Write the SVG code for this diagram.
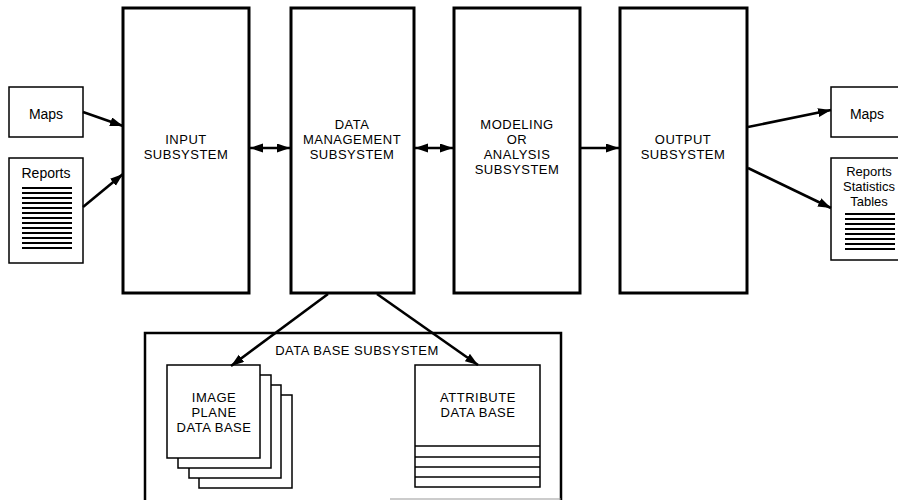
<svg xmlns="http://www.w3.org/2000/svg" width="898" height="500" viewBox="0 0 898 500">
<style>
text{font-family:"Liberation Sans",Arial,sans-serif;fill:#000;text-anchor:middle}
.cap{font-size:13px;letter-spacing:0.5px}
.lbl{font-size:14px}
.lbs{font-size:13px}
.big{fill:#fff;stroke:#000;stroke-width:3}
.sm{fill:#fff;stroke:#000;stroke-width:1.5}
.ln{stroke:#000;stroke-width:1.8}
.con{stroke:#000;stroke-width:2.6;fill:none}
</style>
<defs>
<marker id="ah" markerUnits="userSpaceOnUse" markerWidth="14" markerHeight="10" refX="13" refY="4.5" orient="auto-start-reverse">
<path d="M0,0 L13,4.5 L0,9 z" fill="#000"/>
</marker>
</defs>
<rect width="898" height="500" fill="#fff"/>

<g id="maps-in">
<rect class="sm" x="9" y="87" width="74" height="50"/>
<text class="lbl" x="46" y="119">Maps</text>
</g>
<g id="reports-in">
<rect class="sm" x="9" y="158" width="74" height="105"/>
<text class="lbl" x="46" y="178">Reports</text>
<g class="ln">
<line x1="22" y1="188" x2="72" y2="188"/><line x1="22" y1="193" x2="72" y2="193"/>
<line x1="22" y1="198" x2="72" y2="198"/><line x1="22" y1="203" x2="72" y2="203"/>
<line x1="22" y1="208" x2="72" y2="208"/><line x1="22" y1="213" x2="72" y2="213"/>
<line x1="22" y1="218" x2="72" y2="218"/><line x1="22" y1="223" x2="72" y2="223"/>
<line x1="22" y1="228" x2="72" y2="228"/><line x1="22" y1="233" x2="72" y2="233"/>
<line x1="22" y1="238" x2="72" y2="238"/><line x1="22" y1="243" x2="72" y2="243"/>
<line x1="22" y1="248" x2="72" y2="248"/>
</g>
</g>

<g id="input">
<rect class="big" x="123" y="8" width="126" height="285"/>
<text class="cap" x="186" y="144">INPUT</text>
<text class="cap" x="186" y="159">SUBSYSTEM</text>
</g>
<g id="data-management">
<rect class="big" x="291" y="8" width="123" height="285"/>
<text class="cap" x="352" y="129">DATA</text>
<text class="cap" x="352" y="144">MANAGEMENT</text>
<text class="cap" x="352" y="159">SUBSYSTEM</text>
</g>
<g id="modeling">
<rect class="big" x="454" y="8" width="126" height="285"/>
<text class="cap" x="517" y="129">MODELING</text>
<text class="cap" x="517" y="144">OR</text>
<text class="cap" x="517" y="159">ANALYSIS</text>
<text class="cap" x="517" y="174">SUBSYSTEM</text>
</g>
<g id="output">
<rect class="big" x="620" y="8" width="127" height="285"/>
<text class="cap" x="683" y="144">OUTPUT</text>
<text class="cap" x="683" y="159">SUBSYSTEM</text>
</g>

<g id="maps-out">
<rect class="sm" x="831" y="87" width="80" height="50"/>
<text class="lbl" x="867" y="119">Maps</text>
</g>
<g id="reports-out">
<rect class="sm" x="831" y="158" width="80" height="102"/>
<text class="lbs" x="869" y="176">Reports</text>
<text class="lbs" x="869" y="191">Statistics</text>
<text class="lbs" x="869" y="206">Tables</text>
<g class="ln">
<line x1="845" y1="214" x2="895" y2="214"/><line x1="845" y1="219" x2="895" y2="219"/>
<line x1="845" y1="224" x2="895" y2="224"/><line x1="845" y1="229" x2="895" y2="229"/>
<line x1="845" y1="234" x2="895" y2="234"/><line x1="845" y1="239" x2="895" y2="239"/>
<line x1="845" y1="244" x2="895" y2="244"/><line x1="845" y1="249" x2="895" y2="249"/>
</g>
</g>

<g id="database-subsystem">
<path d="M145,500 L145,333 L561,333 L561,500" fill="none" stroke="#000" stroke-width="2.5"/>
<line x1="390" y1="499" x2="561" y2="499" stroke="#999" stroke-width="1"/>
<text class="cap" x="357" y="355">DATA BASE SUBSYSTEM</text>
</g>
<g id="image-plane">
<rect class="sm" x="199" y="395" width="93" height="93"/>
<rect class="sm" x="189" y="385" width="92" height="93"/>
<rect class="sm" x="178" y="375" width="93" height="93"/>
<rect class="sm" x="167" y="365" width="93" height="93"/>
<text class="cap" x="214" y="402">IMAGE</text>
<text class="cap" x="214" y="417">PLANE</text>
<text class="cap" x="214" y="432">DATA BASE</text>
</g>
<g id="attribute">
<rect class="sm" x="415" y="365" width="125" height="122"/>
<g stroke="#000" stroke-width="1.5">
<line x1="415" y1="446" x2="540" y2="446"/>
<line x1="415" y1="457" x2="540" y2="457"/>
<line x1="415" y1="467" x2="540" y2="467"/>
<line x1="415" y1="477" x2="540" y2="477"/>
</g>
<text class="cap" x="478" y="402">ATTRIBUTE</text>
<text class="cap" x="478" y="417">DATA BASE</text>
</g>

<g id="connectors" class="con">
<line x1="83" y1="112" x2="123" y2="126" marker-end="url(#ah)"/>
<line x1="83" y1="207" x2="123" y2="174" marker-end="url(#ah)"/>
<line x1="250" y1="148" x2="290" y2="148" marker-start="url(#ah)" marker-end="url(#ah)"/>
<line x1="415" y1="148" x2="453" y2="148" marker-start="url(#ah)" marker-end="url(#ah)"/>
<line x1="581" y1="148" x2="619" y2="148" marker-end="url(#ah)"/>
<line x1="748" y1="127" x2="831" y2="110" marker-end="url(#ah)"/>
<line x1="748" y1="168" x2="831" y2="208" marker-end="url(#ah)"/>
<line x1="328" y1="294" x2="231" y2="366" marker-end="url(#ah)"/>
<line x1="377" y1="294" x2="478" y2="365" marker-end="url(#ah)"/>
</g>
</svg>
